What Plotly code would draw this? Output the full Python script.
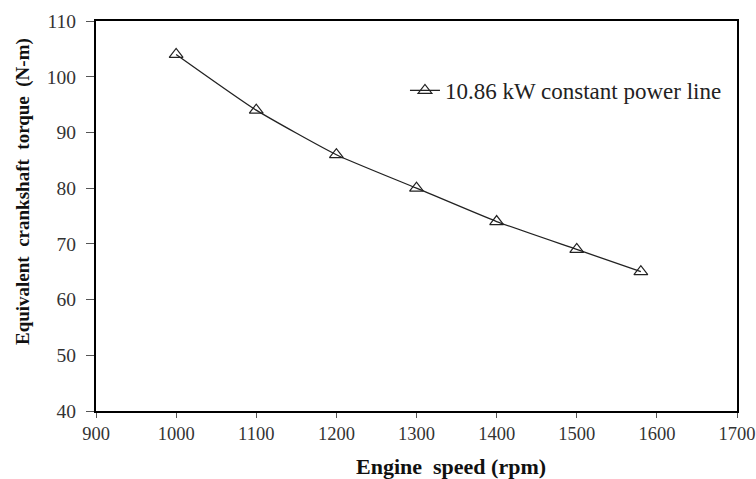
import plotly.graph_objects as go

engine_speed = [1000, 1100, 1200, 1300, 1400, 1500, 1580]
torque = [104, 94, 86, 80, 74, 69, 65]
series_name = "10.86 kW constant power line"
x_title = "<b>Engine  speed (rpm)</b>"
y_title = "<b>Equivalent  crankshaft  torque  (N-m)</b>"

font = "Liberation Serif, Times New Roman, Times, serif"

fig = go.Figure()
fig.add_trace(go.Scatter(
    x=engine_speed, y=torque, name=series_name,
    mode="lines+markers",
    line=dict(color="#222222", width=1.3, shape="spline", smoothing=0.5),
    marker=dict(symbol="triangle-up-open", size=12, color="#222222", line=dict(width=1.2)),
    showlegend=True,
))

fig.update_layout(
    width=756, height=479,
    margin=dict(l=96, r=19, t=21, b=68, autoexpand=False),
    paper_bgcolor="white", plot_bgcolor="white",
    font=dict(family=font, size=18, color="#222222"),
    showlegend=True,
    legend=dict(x=0.482, y=0.822, xanchor="left", yanchor="middle",
                bgcolor="rgba(0,0,0,0)", font=dict(size=23, family=font, color="#222222"),
                itemwidth=30),
    xaxis=dict(range=[900, 1700], dtick=100, tick0=900,
               showline=True, linecolor="black", linewidth=2, mirror=True,
               ticks="outside", ticklen=5, tickcolor="#555", showgrid=False, zeroline=False,
               automargin=False, ticklabeloverflow="allow",
               tickfont=dict(family=font, size=18.5, color="#333333")),
    yaxis=dict(range=[40, 110], dtick=10, tick0=40,
               showline=True, linecolor="black", linewidth=2, mirror=True,
               ticks="outside", ticklen=8, tickcolor="#555", showgrid=False, zeroline=False,
               automargin=False, ticklabelstandoff=6,
               tickfont=dict(family=font, size=19.5, color="#333333")),
    annotations=[
        dict(text=x_title, xref="paper", yref="paper",
             x=(451 - 96) / 641, y=(411 - 452) / 390, xanchor="center", yanchor="top",
             showarrow=False, font=dict(family=font, size=22, color="#111111")),
        dict(text=y_title, xref="paper", yref="paper",
             x=(23 - 96) / 641, y=(411 - 192) / 390, xanchor="center", yanchor="middle",
             textangle=-90, showarrow=False, font=dict(family=font, size=19, color="#111111")),
    ],
)

fig.write_html("out.html", config={"displayModeBar": False},
               post_script="document.body.style.margin='0';document.body.style.overflow='hidden';")
